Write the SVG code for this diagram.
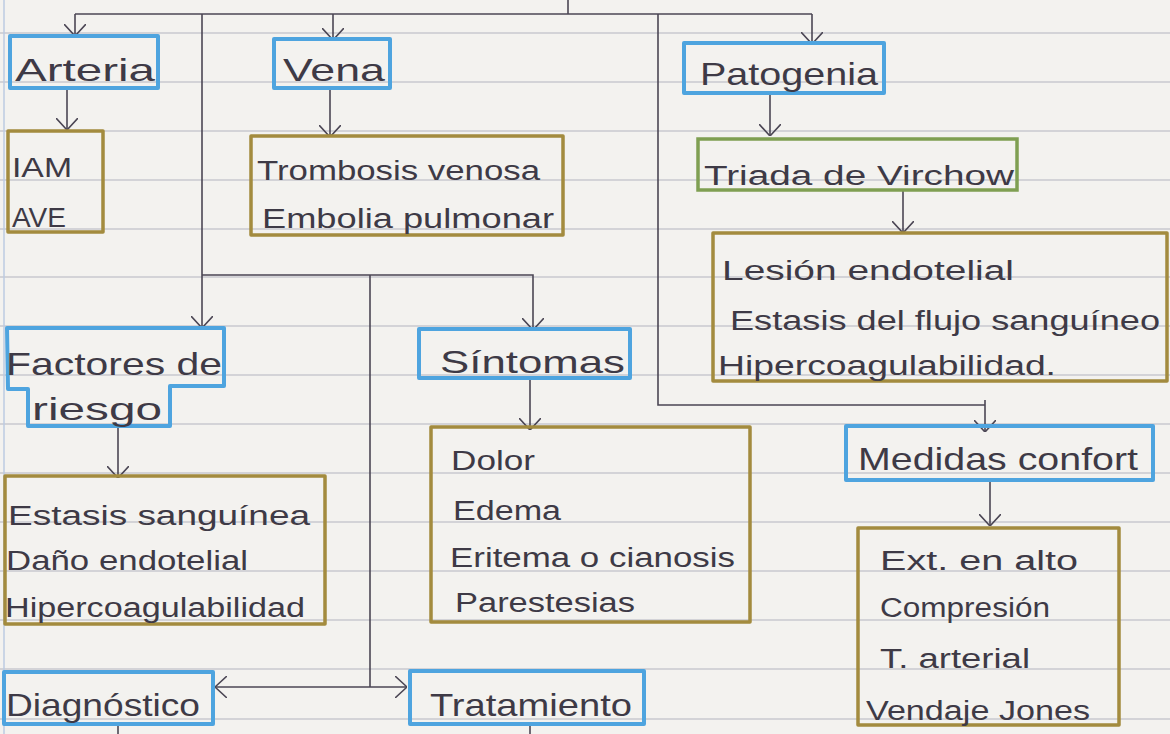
<svg xmlns="http://www.w3.org/2000/svg" width="1170" height="734" viewBox="0 0 1170 734">
<defs>
<style>
.paper{fill:#f3f2ef}
.rule{stroke:#c9c9cf;stroke-width:1.5}
.blue{fill:none;stroke:#4ea4df;stroke-width:4;stroke-linejoin:round}
.olive{fill:none;stroke:#a38b3e;stroke-width:3.5;stroke-linejoin:round}
.green{fill:none;stroke:#7f9f52;stroke-width:3.5}
.conn{fill:none;stroke:#4b4654;stroke-width:1.6}
text{font-family:"Liberation Sans","DejaVu Sans",sans-serif;fill:#3e3a46;font-weight:normal}
.t{font-size:32px}
.c{font-size:27px}
</style>
<marker id="arr" viewBox="0 0 12 22" refX="12" refY="11" markerWidth="12" markerHeight="22" markerUnits="userSpaceOnUse" orient="auto">
<path d="M0,0 L12,11 L0,22" fill="none" stroke="#4b4654" stroke-width="1.6"/>
</marker>
</defs>
<rect class="paper" x="0" y="0" width="1170" height="734"/>
<g id="ruling">
<line class="rule" x1="0" y1="33" x2="1170" y2="33"/>
<line class="rule" x1="0" y1="82" x2="1170" y2="82"/>
<line class="rule" x1="0" y1="131" x2="1170" y2="131"/>
<line class="rule" x1="0" y1="180" x2="1170" y2="180"/>
<line class="rule" x1="0" y1="229" x2="1170" y2="229"/>
<line class="rule" x1="0" y1="277" x2="1170" y2="277"/>
<line class="rule" x1="0" y1="326" x2="1170" y2="326"/>
<line class="rule" x1="0" y1="375" x2="1170" y2="375"/>
<line class="rule" x1="0" y1="424" x2="1170" y2="424"/>
<line class="rule" x1="0" y1="473" x2="1170" y2="473"/>
<line class="rule" x1="0" y1="522" x2="1170" y2="522"/>
<line class="rule" x1="0" y1="571" x2="1170" y2="571"/>
<line class="rule" x1="0" y1="620" x2="1170" y2="620"/>
<line class="rule" x1="0" y1="669" x2="1170" y2="669"/>
<line class="rule" x1="0" y1="719" x2="1170" y2="719"/>
<line x1="4" y1="0" x2="4" y2="734" stroke="#bccbe2" stroke-width="1.5"/>
</g>
<g id="connectors">
<path class="conn" d="M568,0 V14"/>
<path class="conn" d="M75,14 H812"/>
<path class="conn" d="M75,14 V36" marker-end="url(#arr)"/>
<path class="conn" d="M333,14 V40" marker-end="url(#arr)"/>
<path class="conn" d="M812,14 V44" marker-end="url(#arr)"/>
<path class="conn" d="M202,14 V328" marker-end="url(#arr)"/>
<path class="conn" d="M202,275 H533 V330" marker-end="url(#arr)"/>
<path class="conn" d="M370,275 V687"/>
<path class="conn" d="M370,687 H215" marker-end="url(#arr)"/>
<path class="conn" d="M370,687 H407" marker-end="url(#arr)"/>
<path class="conn" d="M658,14 V405 H985"/>
<path class="conn" d="M985,400 V432" marker-end="url(#arr)"/>
<path class="conn" d="M67,88 V130" marker-end="url(#arr)"/>
<path class="conn" d="M330,88 V137" marker-end="url(#arr)"/>
<path class="conn" d="M770,95 V136" marker-end="url(#arr)"/>
<path class="conn" d="M903,190 V233" marker-end="url(#arr)"/>
<path class="conn" d="M118,428 V478" marker-end="url(#arr)"/>
<path class="conn" d="M530,378 V430" marker-end="url(#arr)"/>
<path class="conn" d="M990,482 V526" marker-end="url(#arr)"/>
<path class="conn" d="M118,725 V734"/>
<path class="conn" d="M530,725 V734"/>
</g>
<g id="arteria">
<rect class="blue" x="10" y="36" width="148" height="52"/>
<text class="t" x="15" y="81" textLength="140" lengthAdjust="spacingAndGlyphs">Arteria</text>
</g>
<g id="vena">
<rect class="blue" x="274" y="39" width="116" height="49"/>
<text class="t" x="283" y="81" textLength="102" lengthAdjust="spacingAndGlyphs">Vena</text>
</g>
<g id="patogenia">
<rect class="blue" x="684" y="43" width="200" height="50"/>
<text class="t" x="700" y="85" textLength="178" lengthAdjust="spacingAndGlyphs">Patogenia</text>
</g>
<g id="arteria-items">
<rect class="olive" x="8" y="131" width="95" height="101"/>
<text class="c" x="12" y="177" textLength="60" lengthAdjust="spacingAndGlyphs">IAM</text>
<text class="c" x="12" y="227" textLength="54" lengthAdjust="spacingAndGlyphs">AVE</text>
</g>
<g id="vena-items">
<rect class="olive" x="251" y="136" width="312" height="99"/>
<text class="c" x="257" y="180" textLength="283" lengthAdjust="spacingAndGlyphs">Trombosis venosa</text>
<text class="c" x="262" y="228" textLength="292" lengthAdjust="spacingAndGlyphs">Embolia pulmonar</text>
</g>
<g id="virchow">
<rect class="green" x="698" y="139" width="319" height="51"/>
<text class="c" x="704" y="185" textLength="310" lengthAdjust="spacingAndGlyphs">Triada de Virchow</text>
</g>
<g id="virchow-items">
<rect class="olive" x="713" y="233" width="454" height="148"/>
<text class="c" x="722" y="280" textLength="292" lengthAdjust="spacingAndGlyphs">Lesión endotelial</text>
<text class="c" x="730" y="330" textLength="430" lengthAdjust="spacingAndGlyphs">Estasis del flujo sanguíneo</text>
<text class="c" x="718" y="375" textLength="338" lengthAdjust="spacingAndGlyphs">Hipercoagulabilidad.</text>
</g>
<g id="factores">
<path class="blue" d="M7,328 H224 V386 H170 V426 H28 V389 H8 Z"/>
<text class="t" x="6" y="375" textLength="216" lengthAdjust="spacingAndGlyphs">Factores de</text>
<text class="t" x="32" y="420" textLength="130" lengthAdjust="spacingAndGlyphs">riesgo</text>
</g>
<g id="sintomas">
<rect class="blue" x="419" y="329" width="211" height="49"/>
<text class="t" x="440" y="373" textLength="185" lengthAdjust="spacingAndGlyphs">Síntomas</text>
</g>
<g id="factores-items">
<rect class="olive" x="5" y="476" width="320" height="148"/>
<text class="c" x="8" y="525" textLength="302" lengthAdjust="spacingAndGlyphs">Estasis sanguínea</text>
<text class="c" x="6" y="570" textLength="242" lengthAdjust="spacingAndGlyphs">Daño endotelial</text>
<text class="c" x="5" y="617" textLength="300" lengthAdjust="spacingAndGlyphs">Hipercoagulabilidad</text>
</g>
<g id="sintomas-items">
<rect class="olive" x="431" y="427" width="319" height="195"/>
<text class="c" x="451" y="470" textLength="84" lengthAdjust="spacingAndGlyphs">Dolor</text>
<text class="c" x="453" y="520" textLength="108" lengthAdjust="spacingAndGlyphs">Edema</text>
<text class="c" x="450" y="567" textLength="285" lengthAdjust="spacingAndGlyphs">Eritema o cianosis</text>
<text class="c" x="455" y="612" textLength="180" lengthAdjust="spacingAndGlyphs">Parestesias</text>
</g>
<g id="medidas">
<rect class="blue" x="846" y="426" width="307" height="54"/>
<text class="t" x="858" y="470" textLength="280" lengthAdjust="spacingAndGlyphs">Medidas confort</text>
</g>
<g id="medidas-items">
<rect class="olive" x="858" y="528" width="261" height="197"/>
<text class="c" x="880" y="570" textLength="198" lengthAdjust="spacingAndGlyphs">Ext. en alto</text>
<text class="c" x="880" y="617" textLength="170" lengthAdjust="spacingAndGlyphs">Compresión</text>
<text class="c" x="880" y="668" textLength="150" lengthAdjust="spacingAndGlyphs">T. arterial</text>
<text class="c" x="866" y="720" textLength="224" lengthAdjust="spacingAndGlyphs">Vendaje Jones</text>
</g>
<g id="diagnostico">
<rect class="blue" x="4" y="672" width="209" height="52"/>
<text class="t" x="6" y="716" textLength="194" lengthAdjust="spacingAndGlyphs">Diagnóstico</text>
</g>
<g id="tratamiento">
<rect class="blue" x="410" y="671" width="234" height="53"/>
<text class="t" x="430" y="716" textLength="202" lengthAdjust="spacingAndGlyphs">Tratamiento</text>
</g>
</svg>
